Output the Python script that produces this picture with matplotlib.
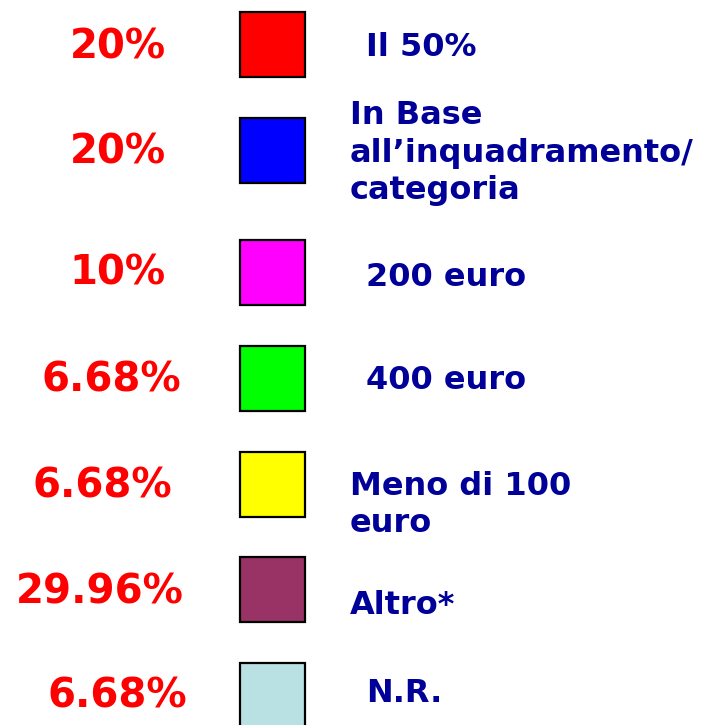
import matplotlib.pyplot as plt
from matplotlib.patches import Rectangle

# values of the legend
percents = ['20%', '20%', '10%', '6.68%', '6.68%', '29.96%', '6.68%']
labels = ['Il 50%', 'In Base\nall\u2019inquadramento/\ncategoria', '200 euro', '400 euro',
          'Meno di 100\neuro', 'Altro*', 'N.R.']
colors = ['#ff0000', '#0000ff', '#ff00ff', '#00ff00', '#ffff00', '#993366', '#b9e0e3']

# layout (pixels)
box_top = [12, 118, 240, 346, 452, 557, 663]
pct_x = [118, 118, 118, 111, 102, 100, 117]
pct_y = [47, 152, 273, 380, 486, 592, 696]
lab_x = [366, 350, 366, 366, 350, 350, 366]
lab_y = [47, 153, 277, 380, 505, 606, 694]

fig = plt.figure(figsize=(7.01, 7.25), dpi=100)
ax = fig.add_axes([0, 0, 1, 1])
ax.set_xlim(0, 701)
ax.set_ylim(725, 0)
ax.axis('off')

for i in range(len(percents)):
    ax.add_patch(Rectangle((240, box_top[i]), 65, 65, facecolor=colors[i],
                           edgecolor='black', linewidth=1.6))
    ax.text(pct_x[i], pct_y[i], percents[i], color='red', fontsize=29,
            fontweight='bold', ha='center', va='center')
    ax.text(lab_x[i], lab_y[i], labels[i], color='#000099', fontsize=23,
            fontweight='bold', ha='left', va='center', linespacing=1.27)

fig.savefig('out.png', dpi=100)
